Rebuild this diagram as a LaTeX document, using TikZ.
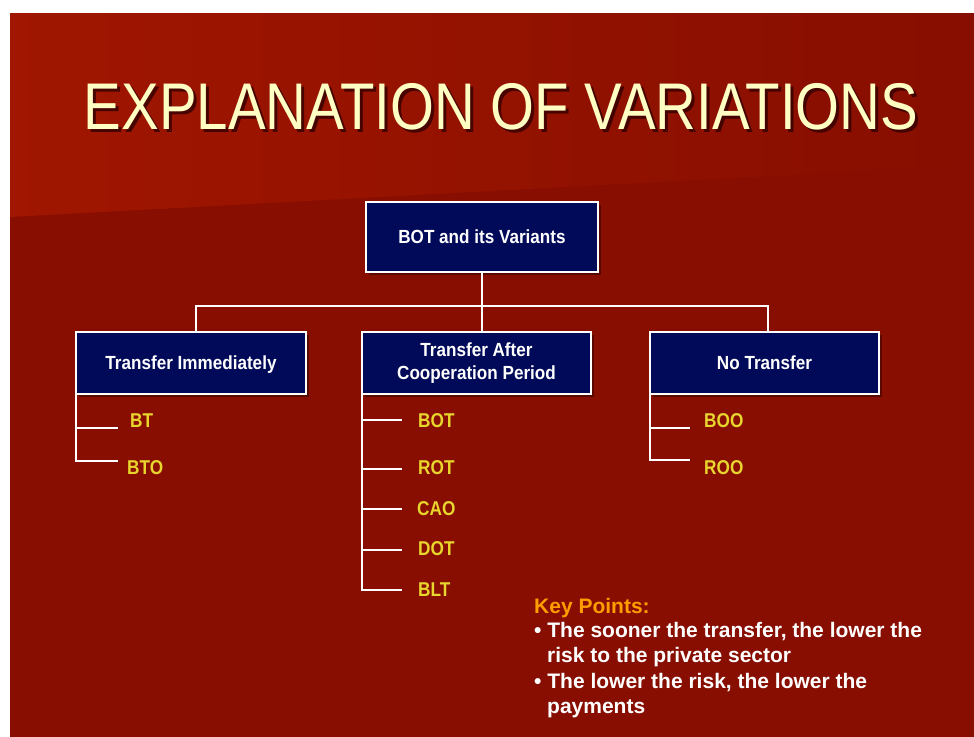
\documentclass[tikz,border=0pt]{standalone}
\usepackage{fontspec}
\setmainfont{Liberation Sans}
\newfontfamily\titlefont[FakeStretch=0.855]{Liberation Sans}
\newfontfamily\boxfont[FakeStretch=0.9]{Liberation Sans}
\newfontfamily\leaffont[FakeStretch=0.86]{Liberation Sans}
\usetikzlibrary{calc, shadows}

\definecolor{slidered}{HTML}{870E00}
\definecolor{slidebright}{HTML}{A01600}
\definecolor{boxblue}{HTML}{000A58}
\definecolor{leafyellow}{HTML}{E8D52E}
\definecolor{titleyellow}{HTML}{FFFFC4}
\definecolor{keyorange}{HTML}{FF9C00}

\begin{document}
\begin{tikzpicture}[%
        x = 1pt,
        y = -1pt,
        line cap = rect,
        variant/.style = {%
            draw = white,
            fill = boxblue,
            line width = 1.5pt,
            text = white,
            align = center,
            inner sep = 0pt,
            font = \boxfont\bfseries\fontsize{19}{24}\selectfont,
            drop shadow = {shadow xshift = 3pt, shadow yshift = -3pt,
                opacity = 0.35, fill = black}
        },
        leaf/.style = {%
            anchor = west,
            inner sep = 0pt,
            text = leafyellow,
            font = \leaffont\bfseries\fontsize{20}{24}\selectfont
        },
        keyline/.style = {%
            anchor = base west,
            inner sep = 0pt,
            text = white,
            font = \bfseries\fontsize{21}{25}\selectfont
        },
        link/.style = {draw = white, line width = 2pt}
    ]

        % Slide background.
        \fill[white] (0, 0) rectangle (974, 736);
        \useasboundingbox (0, 0) rectangle (974, 736);
        \fill[slidered] (10, 13) rectangle (975, 737);
        \shade[left color = slidebright, right color = slidered]
            (10, 13) -- (975, 13) -- (975, 165) -- (10, 217) -- cycle;

        % Title with its shadow.
        \node (titleshade) at (504, 109.5)
            [text = black!80!red, opacity = 0.8,
             font = \titlefont\fontsize{66}{70}\selectfont]
            {EXPLANATION OF VARIATIONS};
        \node (title) at (501, 106.5)
            [text = titleyellow, font = \titlefont\fontsize{66}{70}\selectfont]
            {EXPLANATION OF VARIATIONS};

        % Boxes of the tree.
        \node (root) at (482, 237) [variant, minimum width = 232pt,
            minimum height = 70pt] {BOT and its Variants};
        \node (ti) at (191, 363) [variant, minimum width = 230pt,
            minimum height = 62pt, text depth = 0pt] {Transfer Immediately};
        \node (ta) at (476.5, 363) [variant, minimum width = 229pt,
            minimum height = 62pt] {Transfer After\\[-1pt]Cooperation Period};
        \node (nt) at (764.5, 363) [variant, minimum width = 229pt,
            minimum height = 62pt] {No Transfer};

        % coordinates
        \coordinate (barL) at (196, 306); % Left end of the bar.
        \coordinate (barR) at (768, 306); % Right end of the bar.
        \coordinate (tiStem) at ($(ti.south west) + (1, 0)$); % Stems of the leaves.
        \coordinate (taStem) at ($(ta.south west) + (1, 0)$);
        \coordinate (ntStem) at ($(nt.south west) + (1, 0)$);

        % Draw lines from the root to the three boxes.
        \draw[link] (root.south) to (root.south |- barL);
        \draw[link] (barL) to (barR);
        \draw[link] (barL) to (barL |- ti.north);
        \draw[link] (root.south |- barL) to (root.south |- ta.north);
        \draw[link] (barR) to (barR |- nt.north);

        % Leaves under the first box.
        \foreach \name/\ty/\lx/\ly in {BT/428/130/421, BTO/461/127/468} {
            \coordinate (\name tick) at (117, \ty);
            \node (\name) at (\lx, \ly) [leaf] {\name};
            \draw[link] (tiStem |- \name tick) to (\name tick);
        }
        \draw[link] (tiStem) to (tiStem |- BTOtick);

        % Leaves under the second box.
        \foreach \name/\ty/\lx/\ly in {BOT/420/418/421, ROT/469/418/468,
                CAO/509/417/509, DOT/550/418/549, BLT/590/418/590} {
            \coordinate (\name tick) at (401, \ty);
            \node (\name) at (\lx, \ly) [leaf] {\name};
            \draw[link] (taStem |- \name tick) to (\name tick);
        }
        \draw[link] (taStem) to (taStem |- BLTtick);

        % Leaves under the third box.
        \foreach \name/\ty/\lx/\ly in {BOO/428/704/421, ROO/460/704/468} {
            \coordinate (\name tick) at (689, \ty);
            \node (\name) at (\lx, \ly) [leaf] {\name};
            \draw[link] (ntStem |- \name tick) to (\name tick);
        }
        \draw[link] (ntStem) to (ntStem |- ROOtick);

        % Key points.
        \node (keyhead) at (534, 613) [keyline, text = keyorange] {Key Points:};
        \node (keyA) at (534, 637) [keyline]
            {\textbullet\ The sooner the transfer, the lower the};
        \node (keyAA) at (547, 662) [keyline] {risk to the private sector};
        \node (keyB) at (534, 688) [keyline]
            {\textbullet\ The lower the risk, the lower the};
        \node (keyBB) at (547, 713) [keyline] {payments};
    \end{tikzpicture}
\end{document}
